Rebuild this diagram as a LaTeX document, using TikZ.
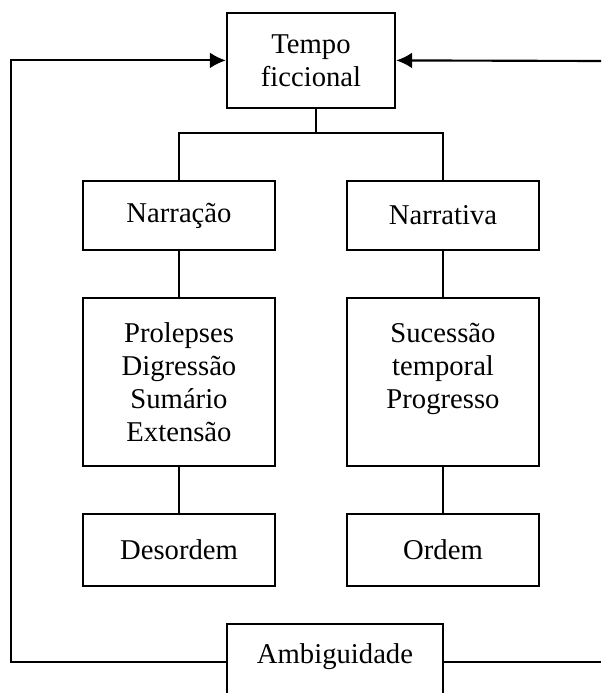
\documentclass[tikz,border=0pt]{standalone}
\usepackage{fontspec}
\setmainfont{Liberation Serif}
\usepackage{tikz}
\usetikzlibrary{arrows.meta,positioning}

\begin{document}
\begin{tikzpicture}[
  x=0.75pt,y=-0.75pt,
  box/.style={draw=black,line width=1.8pt,fill=white,inner sep=0pt,align=center,
              font=\fontsize{21.5}{24.75}\selectfont},
  conn/.style={draw=black,line width=1.6pt},
  arr/.style={conn,-{Latex[length=12pt,width=12pt]}}
]
\useasboundingbox (0,0) rectangle (601,693);
% top of the tree
\node[box,minimum width=126pt,minimum height=71.25pt] (tempo) at (311,60.4) {Tempo\\ficcional};
% two branches
\node[box,minimum width=144pt,minimum height=51.75pt] (narracao) at (179,215.5) {Narração};
\node[box,minimum width=144pt,minimum height=51.75pt] (narrativa) at (443,215.5) {Narrativa};
\node[box,minimum width=144pt,minimum height=126pt] (traitsL) at (179,382) {Prolepses\\Digressão\\Sumário\\Extensão};
\node[box,minimum width=144pt,minimum height=126pt] (traitsR) at (443,382) {Sucessão\\temporal\\Progresso\\\mbox{}};
\node[box,minimum width=144pt,minimum height=54pt] (desordem) at (179,550) {Desordem};
\node[box,minimum width=144pt,minimum height=54pt] (ordem) at (443,550) {Ordem};
\node[box,minimum width=162pt,minimum height=57pt,text depth=13pt] (ambig) at (335,662) {Ambiguidade};

\coordinate (split) at (316,133);
\coordinate (lcorner) at (11,662);
\coordinate (rtop) at (601,61);
\coordinate (rbot) at (601,662);

\draw[conn] (tempo.south -| split) -- (split);
\draw[conn] (narracao.north) |- (split) -| (narrativa.north);
\draw[conn] (narracao) -- (traitsL);
\draw[conn] (traitsL) -- (desordem);
\draw[conn] (narrativa) -- (traitsR);
\draw[conn] (traitsR) -- (ordem);
% feedback from the bottom
\draw[arr] (ambig.west) -- (lcorner) |- (tempo.west);
\draw[conn] (ambig.east) -- (rbot);
\draw[arr] (rtop) -- (tempo.east);
\end{tikzpicture}
\end{document}
